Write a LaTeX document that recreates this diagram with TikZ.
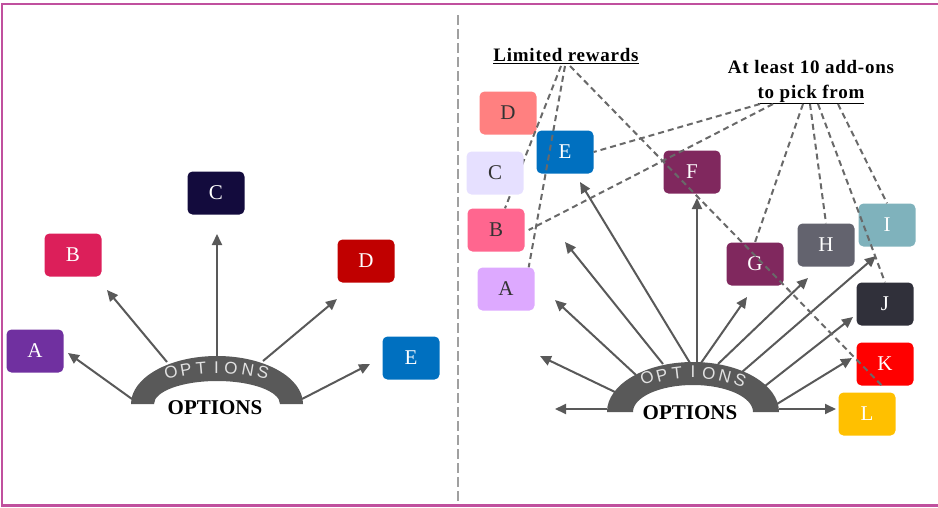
\documentclass[tikz,border=0pt]{standalone}
\usepackage{fontspec}
\setmainfont{Liberation Serif}
\newfontfamily\sansf{Liberation Sans}
\usetikzlibrary{arrows.meta}
\definecolor{framec}{RGB}{192,80,158}
\definecolor{arrgray}{RGB}{89,89,89}
\definecolor{dshgray}{RGB}{105,105,105}
\definecolor{divc}{RGB}{160,160,160}
\definecolor{letgray}{RGB}{225,225,225}
\definecolor{lAc}{HTML}{7030A0}
\definecolor{lBc}{HTML}{DC1F5A}
\definecolor{lCc}{HTML}{130B3D}
\definecolor{lDc}{HTML}{C00000}
\definecolor{blu}{HTML}{0070C0}
\definecolor{rDc}{HTML}{FF8080}
\definecolor{rCc}{HTML}{E6E0FF}
\definecolor{rBc}{HTML}{FF668F}
\definecolor{rAc}{HTML}{DDA9FF}
\definecolor{plum}{HTML}{80285E}
\definecolor{rHc}{HTML}{63636E}
\definecolor{rIc}{HTML}{7FB2BC}
\definecolor{rJc}{HTML}{30303A}
\definecolor{rKc}{HTML}{FF0000}
\definecolor{rLc}{HTML}{FFC000}
\begin{document}
\begin{tikzpicture}[x=1pt,y=-1pt,
  box/.style={rounded corners=5pt, minimum width=57pt, minimum height=43pt, inner sep=0pt, text=white, font=\fontsize{21}{24}\selectfont},
  darktext/.style={text=black!80},
  arr/.style={draw=arrgray, line width=2pt, -{Triangle[length=11pt,width=10pt]}},
  dsh/.style={draw=dshgray, line width=2pt, dash pattern=on 6pt off 4pt},
  arclet/.style={text=letgray, font=\sansf\fontsize{17}{20}\selectfont, inner sep=0pt},
  big/.style={font=\fontsize{21}{24}\selectfont\bfseries, inner sep=0pt},
  lbl/.style={font=\fontsize{19}{25}\selectfont\bfseries\addfontfeature{LetterSpace=4}, inner sep=0pt, align=center}
]
\useasboundingbox (0,0) rectangle (938,507);
% frame and divider
\draw[framec, line width=2.5pt] (938,4) -- (2,4) -- (2,505.5) -- (938,505.5);
\draw[divc, line width=2pt, dash pattern=on 10pt off 4pt] (458,15) -- (458,504);

% ---------- left half ----------
\node[box, fill=lAc] (lA) at (35,351) {A};
\node[box, fill=lBc] (lB) at (73,255) {B};
\node[box, fill=lCc] (lC) at (216,193) {C};
\node[box, fill=lDc] (lD) at (366,261) {D};
\node[box, fill=blu] (lE) at (411,358) {E};

\coordinate (ls1) at (132,399); \coordinate (lt1) at (68,353);
\coordinate (ls2) at (167,362); \coordinate (lt2) at (107,290);
\coordinate (ls3) at (217,358); \coordinate (lt3) at (217,234);
\coordinate (ls4) at (263,361); \coordinate (lt4) at (337,299);
\coordinate (ls5) at (302,399); \coordinate (lt5) at (370,364);
\foreach \i in {1,...,5} \draw[arr] (ls\i) -- (lt\i);

\fill[arrgray] (131,404) arc[start angle=180, end angle=360, x radius=86, y radius=48]
  -- (280,404) arc[start angle=360, end angle=180, x radius=63, y radius=23] -- cycle;
\foreach \ch/\x/\y/\r [count=\i] in {O/171/372/15, P/186/370/10, T/201/368/5, I/216.5/367.5/0, O/231/368/-5, N/248/370/-10, S/263/372/-15}
  \node[arclet, rotate=\r] (la\i) at (\x,\y) {\ch};
\node[big] (lopt) at (215,408) {OPTIONS};

% ---------- right half ----------
\node[box, fill=rDc, darktext] (rD) at (508,113) {D};
\node[box, fill=blu] (rE) at (565,152) {E};
\node[box, fill=rBc, darktext] (rB) at (496,230) {B};
\node[box, fill=rAc, darktext] (rA) at (506,289) {A};
\node[box, fill=plum] (rF) at (692,172) {F};
\node[box, fill=plum] (rG) at (755,264) {G};
\node[box, fill=rHc] (rH) at (826,245) {H};
\node[box, fill=rIc] (rI) at (887,225) {I};
\node[box, fill=rJc] (rJ) at (885,304) {J};
\node[box, fill=rKc] (rK) at (885,364) {K};
\node[box, fill=rLc] (rL) at (867,414) {L};

\coordinate (rs1) at (607,409); \coordinate (rt1) at (555,409);
\coordinate (rs2) at (615,392); \coordinate (rt2) at (540,356);
\coordinate (rs3) at (636,375); \coordinate (rt3) at (555,300);
\coordinate (rs4) at (663,364); \coordinate (rt4) at (565,242);
\coordinate (rs5) at (690,363); \coordinate (rt5) at (580,182);
\coordinate (rs6) at (697,363); \coordinate (rt6) at (697,198);
\coordinate (rs7) at (701,363); \coordinate (rt7) at (747,297);
\coordinate (rs8) at (718,364); \coordinate (rt8) at (808,278);
\coordinate (rs9) at (742,372); \coordinate (rt9) at (876,256);
\coordinate (rs10) at (765,386); \coordinate (rt10) at (853,317);
\coordinate (rs11) at (777,404); \coordinate (rt11) at (852,358);
\coordinate (rs12) at (779,409); \coordinate (rt12) at (836,409);
\foreach \i in {1,...,12} \draw[arr] (rs\i) -- (rt\i);

\fill[arrgray] (607,412) arc[start angle=180, end angle=360, x radius=86, y radius=50]
  -- (753,412) arc[start angle=360, end angle=180, x radius=60, y radius=27] -- cycle;
\foreach \ch/\x/\y/\r [count=\i] in {O/647/378/22, P/662/375/14, T/677/373/7, I/693/372/0, O/709/373/-7, N/725/376/-14, S/740/380/-22}
  \node[arclet, rotate=\r] (ra\i) at (\x,\y) {\ch};
\node[big] (ropt) at (690,413) {OPTIONS};

% labels
\node[lbl] (lim) at (566,56) {\underline{Limited rewards}};
\node[lbl] (add) at (811,82) {At least 10 add-ons\\\underline{to pick from}};

\coordinate (lim1) at (561,66);
\coordinate (lim2) at (565,66);
\coordinate (lim3) at (570,66);
\coordinate (add1) at (760,104);
\coordinate (add2) at (773,104);
\coordinate (add3) at (803,104);
\coordinate (add4) at (810,104);
\coordinate (add5) at (818,104);
\coordinate (add6) at (838,104);

\draw[dsh] (lim1) -- ([xshift=9pt]rB.north);
\draw[dsh] (lim2) -- ([xshift=-6pt]rA.north east);
\draw[dsh] (lim3) -- ([xshift=-3pt]rK.south);
\draw[dsh] (add1) -- (rE.east);
\draw[dsh] (add2) -- ([xshift=4pt]rB.east);
\draw[dsh] (add3) -- (rG.north);
\draw[dsh] (add4) -- (rH.north);
\draw[dsh] (add5) -- (rJ.north);
\draw[dsh] (add6) -- (rI.north);

% C drawn last so it hides the dashed line behind it
\node[box, fill=rCc, darktext] (rC) at (495,173) {C};
\end{tikzpicture}
\end{document}
